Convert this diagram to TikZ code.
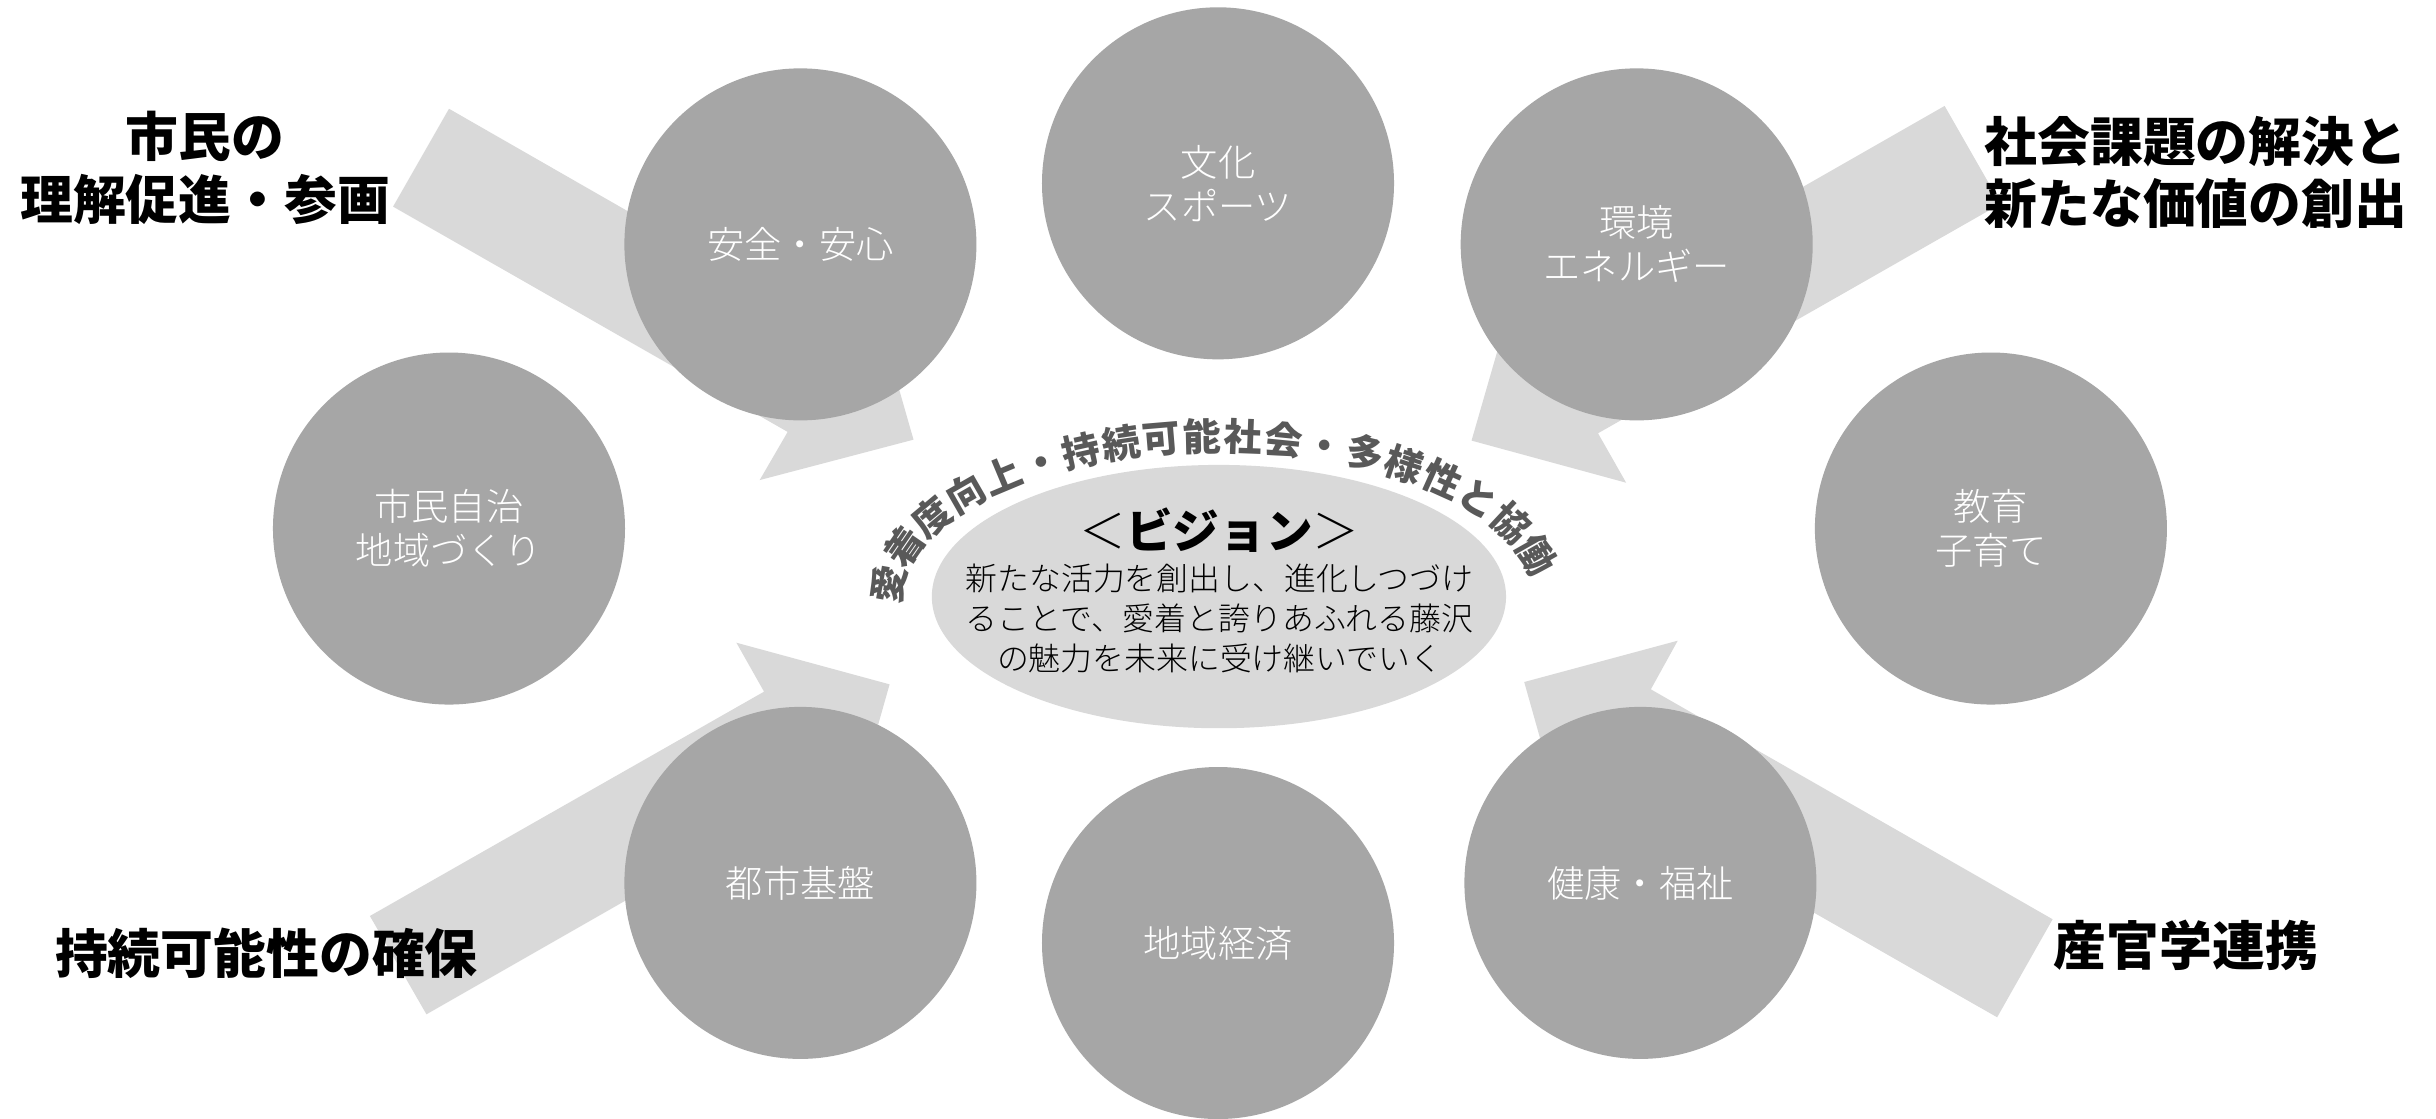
\documentclass[tikz,border=0pt]{standalone}
\usepackage{fontspec}
\newfontfamily\jp{Noto Sans CJK JP}
\IfFontExistsTF{Noto Sans CJK JP Light}{\newfontfamily\jpl{Noto Sans CJK JP Light}}{\newfontfamily\jpl{Noto Sans CJK JP}}
\usetikzlibrary{shapes.geometric,decorations.markings}
\definecolor{circA}{HTML}{A6A6A6}
\definecolor{lite}{HTML}{D9D9D9}
\definecolor{arcg}{HTML}{595959}
\begin{document}
\begin{tikzpicture}[x=1pt,y=-1pt,
  bubble/.style={circle, fill=circA, minimum size=226.6pt, inner sep=0pt, text=white,
    font=\jpl\fontsize{24}{28.3}\selectfont, align=center},
  lbl/.style={font=\jp\bfseries\fontsize{34}{40.5}\selectfont, align=center, text=black, inner sep=0pt},
  arcch/.style={font=\jp\bfseries\fontsize{24.5}{24.5}\selectfont, text=arcg, transform shape,
    inner sep=0pt, text height=21.6pt, text depth=2.9pt},
  blockarrow/.style={fill=lite, draw=none}]
\useasboundingbox (0,0) rectangle (1568,720);
\fill[white] (0,0) rectangle (1568,720);

% block arrows (mostly hidden behind the circles)
\fill[blockarrow] (289,70) -- (549,219) -- (560.3,186.1) -- (588,283) -- (489,309) -- (507,278) -- (253,133) -- cycle;
\fill[blockarrow] (1251.7,68.2) -- (991.3,217) -- (975.3,186.1) -- (947.2,283.6) -- (1046.7,310.7) -- (1028.6,278.9) -- (1287.7,131.2) -- cycle;
\fill[blockarrow] (238.1,589.6) -- (491.8,445.2) -- (474,413.7) -- (572.6,440.5) -- (545.3,536.9) -- (535,504) -- (274.5,652.9) -- cycle;
\fill[blockarrow] (1321.2,591.7) -- (1062.6,443.7) -- (1079.9,412.4) -- (981.1,439) -- (1008.7,536.9) -- (1025,506) -- (1285.5,654.8) -- cycle;

% circles
\node[bubble] (anzen) at (515.2,157.3) {安全・安心};
\node[bubble] (bunka) at (784,118) {文化\\スポーツ};
\node[bubble] (kankyo) at (1053.5,157.3) {環境\\エネルギー};
\node[bubble] (jichi) at (289,340.2) {市民自治\\地域づくり};
\node[bubble] (kyoiku) at (1281.5,340.2) {教育\\子育て};
\node[bubble] (toshi) at (515.2,568.3) {都市基盤};
\node[bubble] (keizai) at (784,607) {地域経済};
\node[bubble] (kenko) at (1055.9,568.3) {健康・福祉};

% central vision ellipse
\node[ellipse, fill=lite, minimum width=369.6pt, minimum height=169.5pt, inner sep=0pt] (vision) at (784.6,384) {};
\node[font=\jpl\fontsize{30}{30}\selectfont, inner sep=0pt] (vtitle) at (785,341.2) {＜{\jp\bfseries ビジョン}＞};
\node[font=\jpl\fontsize{20.5}{25.7}\selectfont, align=center, inner sep=0pt] (vtext) at (785,398) {新たな活力を創出し、進化しつづけ\\ることで、愛着と誇りあふれる藤沢\\の魅力を未来に受け継いでいく};

% arched text
\path[decorate, decoration={markings,
  mark=at position 0.0001 with {\node[arcch] (a1) {愛};},
  mark=at position 0.05556 with {\node[arcch] (a2) {着};},
  mark=at position 0.11111 with {\node[arcch] (a3) {度};},
  mark=at position 0.16667 with {\node[arcch] (a4) {向};},
  mark=at position 0.22222 with {\node[arcch] (a5) {上};},
  mark=at position 0.27778 with {\node[arcch] (a6) {・};},
  mark=at position 0.33333 with {\node[arcch] (a7) {持};},
  mark=at position 0.38889 with {\node[arcch] (a8) {続};},
  mark=at position 0.44444 with {\node[arcch] (a9) {可};},
  mark=at position 0.5 with {\node[arcch] (a10) {能};},
  mark=at position 0.55556 with {\node[arcch] (a11) {社};},
  mark=at position 0.61111 with {\node[arcch] (a12) {会};},
  mark=at position 0.66667 with {\node[arcch] (a13) {・};},
  mark=at position 0.72222 with {\node[arcch] (a14) {多};},
  mark=at position 0.77778 with {\node[arcch] (a15) {様};},
  mark=at position 0.83333 with {\node[arcch] (a16) {性};},
  mark=at position 0.88889 with {\node[arcch] (a17) {と};},
  mark=at position 0.94444 with {\node[arcch] (a18) {協};},
  mark=at position 0.9999 with {\node[arcch] (a19) {働};}}]
  (784,385) ++(-175:213 and 104) arc[start angle=-175, end angle=-15.5, x radius=213, y radius=104];

% outer labels
\node[lbl] (lab1) at (132,108) {市民の\\理解促進・参画};
\node[lbl] (lab2) at (1413.4,111) {社会課題の解決と\\新たな価値の創出};
\node[lbl] (lab3) at (171.5,613.6) {持続可能性の確保};
\node[lbl] (lab4) at (1407,608.3) {産官学連携};
\end{tikzpicture}
\end{document}
